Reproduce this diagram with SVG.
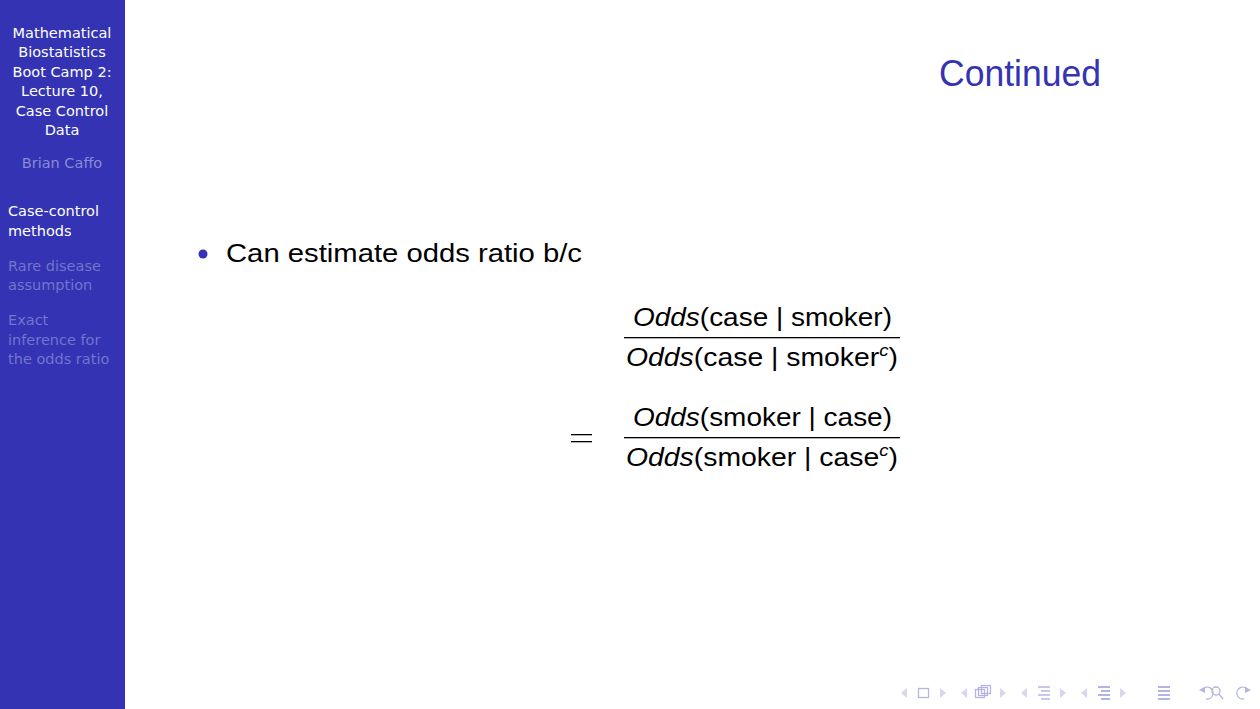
<svg xmlns="http://www.w3.org/2000/svg" width="1260" height="709" viewBox="0 0 1260 709">
<style>
.sb{font-family:"DejaVu Sans","Liberation Sans",sans-serif;font-size:14.5px;fill:#ffffff}
.dim{fill:#7474cc}
.au{fill:#8a8ad4}
.m{font-family:"Liberation Sans","DejaVu Sans",sans-serif;font-size:26px;fill:#000}
.it{font-style:italic}
.nav{fill:#d6d6f0;stroke:none}
.navs{fill:none;stroke:#b4b4e0;stroke-width:1.3}
</style>
<rect x="0" y="0" width="1260" height="709" fill="#ffffff"/>
<g id="sidebar">
<rect x="0" y="0" width="125" height="709" fill="#3333b3"/>
<g class="sb" text-anchor="middle">
<text x="62" y="38">Mathematical</text>
<text x="62" y="57">Biostatistics</text>
<text x="62" y="77">Boot Camp 2:</text>
<text x="62" y="96">Lecture 10,</text>
<text x="62" y="116">Case Control</text>
<text x="62" y="135">Data</text>
<text x="62" y="168" class="sb au">Brian Caffo</text>
</g>
<g class="sb">
<text x="8" y="216">Case-control</text>
<text x="8" y="236">methods</text>
<text x="8" y="271" class="sb dim">Rare disease</text>
<text x="8" y="290" class="sb dim">assumption</text>
<text x="8" y="325" class="sb dim">Exact</text>
<text x="8" y="345" class="sb dim">inference for</text>
<text x="8" y="364" class="sb dim">the odds ratio</text>
</g>
</g>
<g id="title">
<text x="939" y="86" font-family="Liberation Sans Narrow,Liberation Sans,sans-serif" font-size="37" fill="#3333b3" textLength="162" lengthAdjust="spacingAndGlyphs">Continued</text>
</g>
<g id="bullet">
<circle cx="203" cy="254" r="4.5" fill="#3333b3"/>
<text x="226" y="262" class="m" textLength="356" lengthAdjust="spacingAndGlyphs">Can estimate odds ratio b/c</text>
</g>
<g id="formula">
<text x="633" y="326" class="m" textLength="259" lengthAdjust="spacingAndGlyphs"><tspan class="it">Odds</tspan>(case | smoker)</text>
<rect x="624" y="337" width="276" height="1.3" fill="#000"/>
<text x="626" y="366" class="m" textLength="272" lengthAdjust="spacingAndGlyphs"><tspan class="it">Odds</tspan>(case | smoker<tspan class="it" font-size="17" dy="-10">c</tspan><tspan dy="10">)</tspan></text>
<rect x="571" y="434" width="21" height="1.3" fill="#000"/>
<rect x="571" y="441" width="21" height="1.3" fill="#000"/>
<text x="633" y="426" class="m" textLength="259" lengthAdjust="spacingAndGlyphs"><tspan class="it">Odds</tspan>(smoker | case)</text>
<rect x="624" y="437" width="276" height="1.3" fill="#000"/>
<text x="626" y="466" class="m" textLength="272" lengthAdjust="spacingAndGlyphs"><tspan class="it">Odds</tspan>(smoker | case<tspan class="it" font-size="17" dy="-10">c</tspan><tspan dy="10">)</tspan></text>
</g>
<g id="navigation">
<polygon class="nav" points="901,693 907,688 907,698"/>
<rect class="navs" x="918.5" y="688.5" width="10" height="9"/>
<polygon class="nav" points="940,688 946,693 940,698"/>
<polygon class="nav" points="961,693 967,688 967,698"/>
<rect class="navs" x="975.5" y="689.5" width="9" height="8"/>
<rect class="navs" x="978.5" y="687.5" width="9" height="8" fill="#fff"/>
<rect class="navs" x="981.5" y="685.5" width="9" height="8" fill="#fff"/>
<polygon class="nav" points="1000,688 1006,693 1000,698"/>
<polygon class="nav" points="1021,693 1027,688 1027,698"/>
<g fill="#c8c8ea"><rect x="1038" y="686" width="12" height="2"/><rect x="1041" y="690" width="9" height="2"/><rect x="1038" y="694" width="12" height="2"/><rect x="1041" y="698" width="9" height="2"/></g>
<polygon class="nav" points="1060,688 1066,693 1060,698"/>
<polygon class="nav" points="1081,693 1087,688 1087,698"/>
<g fill="#b4b4e0"><rect x="1098" y="686" width="12" height="2"/><rect x="1101" y="690" width="9" height="2"/><rect x="1098" y="694" width="12" height="2"/><rect x="1101" y="698" width="9" height="2"/></g>
<polygon class="nav" points="1120,688 1126,693 1120,698"/>
<g fill="#b4b4e0"><rect x="1158" y="686" width="12" height="2"/><rect x="1158" y="690" width="12" height="2"/><rect x="1158" y="694" width="12" height="2"/><rect x="1158" y="698" width="12" height="2"/></g>
<path class="navs" d="M1202,690 A6,6 0 1 1 1206,699"/>
<polygon fill="#b4b4e0" points="1199,690 1205,687 1205,693"/>
<circle class="navs" cx="1216" cy="691" r="4"/>
<line class="navs" x1="1219" y1="694" x2="1223" y2="699" stroke-width="2"/>
<path class="navs" d="M1248,690 A6,6 0 1 0 1244,699"/>
<polygon fill="#b4b4e0" points="1251,690 1245,687 1245,693"/>
</g>
</svg>
